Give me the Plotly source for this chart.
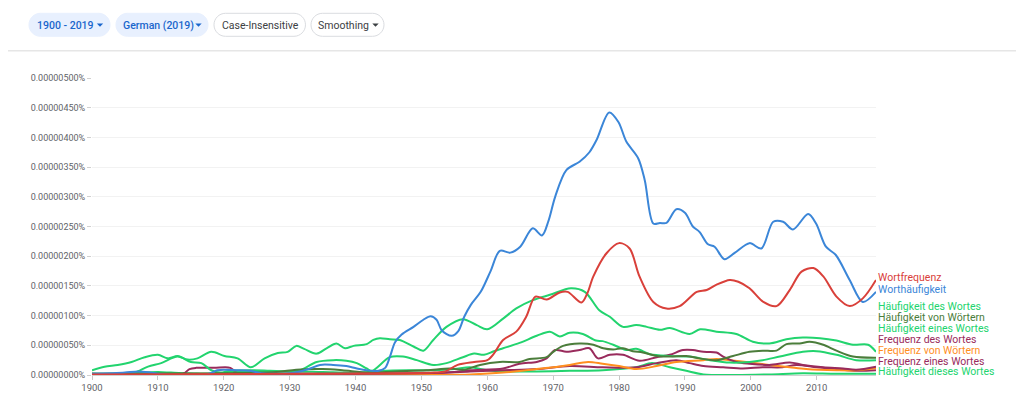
import plotly.graph_objects as go

# ---------------- data (values in units of 0.000001 %) ----------------
SCALE = 1e-6

WORTFREQUENZ_YEARS = [1900, 1930, 1945, 1952, 1953.6, 1955.5, 1958, 1960, 1961, 1962.4, 1964.4, 1965.9, 1967.3, 1969, 1971,
                      1972.2, 1974.3, 1975.2, 1976.1, 1978.1, 1980, 1981.6, 1983.1, 1985.2, 1987.2, 1989.2, 1991.8, 1993.3,
                      1994.8, 1996.8, 1998.1, 1999.8, 2001.9, 2003.9, 2005.9, 2007.7, 2009.5, 2011, 2013, 2015, 2017, 2019]
WORTFREQUENZ = [0.01, 0.02, 0.03, 0.04, 0.06, 0.17, 0.22, 0.25, 0.36, 0.59, 0.73, 0.98, 1.32, 1.27, 1.39,
                1.40, 1.22, 1.38, 1.66, 2.05, 2.22, 2.13, 1.66, 1.23, 1.12, 1.16, 1.40, 1.43,
                1.52, 1.60, 1.57, 1.46, 1.23, 1.16, 1.43, 1.74, 1.80, 1.66, 1.32, 1.16, 1.29, 1.60]

WORTHAEUFIGKEIT_YEARS = [1900, 1903, 1905, 1907, 1909, 1911, 1914, 1917, 1918, 1919, 1922, 1924, 1925.7, 1928, 1930,
                         1931.6, 1933.1, 1934.6, 1936.6, 1938.6, 1940.2, 1941.7, 1943.5, 1944.5, 1945.2, 1946, 1947,
                         1948.8, 1950.3, 1951.4, 1952.3, 1953.1, 1954.6, 1955.6, 1956.5, 1957.5, 1959, 1960.5, 1961.9,
                         1963.5, 1965, 1966.9, 1968.3, 1969.3, 1970.3, 1972, 1974, 1975.5, 1976.6, 1978.5, 1979.9,
                         1981.1, 1982.9, 1983.9, 1985.2, 1986.2, 1987.2, 1988.7, 1990, 1991.2, 1992.2, 1993.5, 1994.5,
                         1996, 1997.6, 1999.8, 2001.6, 2003.4, 2004.9, 2006.4, 2008.7, 2009.9, 2011.4, 2012.9, 2015,
                         2017, 2019]
WORTHAEUFIGKEIT = [0.02, 0.03, 0.04, 0.06, 0.04, 0.01, 0.0, 0.0, 0.03, 0.08, 0.08, 0.07, 0.03, 0.02, 0.03,
                   0.06, 0.11, 0.17, 0.17, 0.15, 0.11, 0.08, 0.07, 0.12, 0.30, 0.55, 0.68,
                   0.81, 0.93, 0.99, 0.93, 0.75, 0.66, 0.74, 0.98, 1.18, 1.40, 1.75, 2.09,
                   2.06, 2.16, 2.47, 2.35, 2.60, 3.00, 3.45, 3.59, 3.75, 3.96, 4.42, 4.26,
                   3.93, 3.65, 3.28, 2.55, 2.56, 2.56, 2.79, 2.73, 2.50, 2.41, 2.20, 2.16,
                   1.95, 2.06, 2.22, 2.13, 2.58, 2.58, 2.45, 2.71, 2.55, 2.16, 2.02, 1.60,
                   1.23, 1.40]

H_DES_WORTES_YEARS = [1900, 1901.9, 1903.9, 1906, 1908, 1910, 1911.5, 1913, 1914.5, 1916, 1918.1, 1920.1, 1922.1, 1924.1,
                      1926.2, 1928.2, 1929.7, 1931, 1932.2, 1934.1, 1935.6, 1937.1, 1938.4, 1939.7, 1941.7, 1942.7,
                      1943.7, 1945.2, 1946.7, 1948.8, 1950.3, 1951.8, 1953.8, 1956.3, 1958.4, 1960, 1962.4, 1964.4,
                      1966.9, 1969.5, 1972.7, 1974.8, 1977, 1978.6, 1980.6, 1982.6, 1984.2, 1986.2, 1987.7, 1990.7,
                      1992.3, 1994.8, 1997.8, 2000.3, 2002.8, 2005.4, 2007.9, 2010.5, 2013, 2015.5, 2017.8, 2019]
H_DES_WORTES = [0.08, 0.14, 0.17, 0.22, 0.30, 0.34, 0.28, 0.32, 0.26, 0.28, 0.39, 0.32, 0.28, 0.13,
                0.28, 0.37, 0.39, 0.49, 0.44, 0.36, 0.45, 0.53, 0.45, 0.49, 0.52, 0.59,
                0.62, 0.60, 0.59, 0.48, 0.41, 0.59, 0.81, 0.94, 0.84, 0.77, 0.95, 1.12,
                1.26, 1.35, 1.46, 1.40, 1.09, 0.98, 0.81, 0.84, 0.81, 0.76, 0.79, 0.69,
                0.77, 0.73, 0.69, 0.56, 0.53, 0.60, 0.63, 0.62, 0.58, 0.51, 0.51, 0.39]

H_VON_WOERTERN_YEARS = [1900, 1920, 1928, 1931, 1935, 1938, 1942, 1946, 1950.8, 1954.3, 1956.5, 1958.9, 1961.9, 1964.9,
                        1966.4, 1969, 1970, 1971.5, 1974, 1976.1, 1977.6, 1979.1, 1980.6, 1982.1, 1983.6, 1985.7,
                        1987.7, 1990.2, 1992.2, 1994.8, 1997.3, 1999.8, 2001.8, 2003.9, 2005.4, 2007.4, 2008.9, 2011,
                        2013, 2015.5, 2019]
H_VON_WOERTERN = [0.02, 0.03, 0.05, 0.09, 0.10, 0.08, 0.04, 0.06, 0.08, 0.11, 0.09, 0.17, 0.22, 0.22,
                  0.27, 0.30, 0.39, 0.49, 0.53, 0.51, 0.45, 0.43, 0.45, 0.40, 0.38, 0.32,
                  0.31, 0.32, 0.28, 0.25, 0.32, 0.39, 0.41, 0.41, 0.52, 0.53, 0.56, 0.51,
                  0.41, 0.31, 0.29]

H_EINES_WORTES_YEARS = [1900, 1905, 1906.5, 1908.5, 1910.5, 1913, 1915, 1916.6, 1918.1, 1919.5, 1921, 1924, 1927, 1930,
                        1931.6, 1934.1, 1936.6, 1938.6, 1940.2, 1941.7, 1942.5, 1945.2, 1947.2, 1949.3, 1951.8, 1953.8,
                        1956.3, 1958, 1959.5, 1961, 1962.4, 1964.9, 1967.5, 1969.5, 1971, 1972.5, 1974.5, 1976.5,
                        1977.5, 1979.1, 1981.1, 1982.6, 1984.7, 1987.7, 1990.7, 1993.8, 1996.8, 1999.8, 2001.8, 2004.4,
                        2007.9, 2010, 2013, 2016, 2019]
H_EINES_WORTES = [0.02, 0.02, 0.04, 0.14, 0.20, 0.31, 0.22, 0.20, 0.08, 0.04, 0.07, 0.08, 0.07, 0.06,
                  0.08, 0.22, 0.25, 0.24, 0.20, 0.11, 0.07, 0.30, 0.31, 0.25, 0.17, 0.20,
                  0.30, 0.36, 0.34, 0.40, 0.45, 0.54, 0.66, 0.73, 0.65, 0.71, 0.69, 0.58,
                  0.57, 0.51, 0.42, 0.44, 0.35, 0.32, 0.31, 0.25, 0.21, 0.22, 0.25, 0.31,
                  0.39, 0.40, 0.34, 0.25, 0.25]

F_DES_WORTES_YEARS = [1900, 1913.8, 1914.8, 1915.8, 1918.5, 1921, 1922.1, 1930, 1950, 1955, 1957.4, 1962.4, 1964.9,
                      1967.5, 1969, 1970.3, 1972, 1974, 1975.5, 1976.8, 1978.6, 1980.6, 1983.1, 1985.7, 1987.7, 1989.7,
                      1991.2, 1992.8, 1994.8, 1995.8, 1997.8, 1999.8, 2002.8, 2005.9, 2007.9, 2011, 2014, 2016, 2019]
F_DES_WORTES = [0.02, 0.02, 0.10, 0.12, 0.12, 0.12, 0.03, 0.02, 0.03, 0.05, 0.08, 0.11, 0.19,
                0.22, 0.28, 0.42, 0.39, 0.42, 0.45, 0.28, 0.34, 0.34, 0.24, 0.30, 0.34, 0.42,
                0.42, 0.39, 0.38, 0.31, 0.22, 0.19, 0.17, 0.21, 0.17, 0.13, 0.11, 0.09, 0.14]

F_VON_WOERTERN_YEARS = [1900, 1950, 1955, 1957.4, 1962.4, 1967.5, 1970, 1972.5, 1975.3, 1977.5, 1980, 1982.6, 1985.7,
                        1988.7, 1992.8, 1994.8, 1996.8, 1999.3, 2002.8, 2005.9, 2008.4, 2013, 2016, 2019]
F_VON_WOERTERN = [0.0, 0.0, 0.005, 0.01, 0.04, 0.10, 0.13, 0.17, 0.22, 0.19, 0.15, 0.10, 0.15,
                  0.22, 0.25, 0.27, 0.25, 0.22, 0.17, 0.13, 0.10, 0.08, 0.08, 0.12]

F_EINES_WORTES_YEARS = [1900, 1950, 1957.4, 1962.4, 1967.5, 1972.5, 1977.5, 1982.6, 1985.7, 1988.7, 1990.7, 1992.8,
                        1995.8, 1998.8, 2001.8, 2004.8, 2006.9, 2010, 2013, 2016, 2019]
F_EINES_WORTES = [0.01, 0.02, 0.06, 0.08, 0.10, 0.15, 0.13, 0.13, 0.20, 0.25, 0.20, 0.15,
                  0.13, 0.11, 0.13, 0.13, 0.17, 0.13, 0.10, 0.07, 0.08]

H_DIESES_WORTES_YEARS = [1900, 1905, 1910, 1912, 1916, 1919, 1921, 1925, 1930, 1935, 1940, 1944, 1948, 1952, 1955,
                         1957.4, 1960, 1962.4, 1967.5, 1972.5, 1977.5, 1982.6, 1985, 1987.7, 1990.2, 1992.8, 1997.8,
                         2002.8, 2007.9, 2013, 2019]
H_DIESES_WORTES = [0.02, 0.03, 0.05, 0.04, 0.02, 0.02, 0.06, 0.05, 0.06, 0.05, 0.04, 0.07, 0.08, 0.08, 0.10,
                   0.13, 0.08, 0.06, 0.06, 0.07, 0.08, 0.13, 0.20, 0.13, 0.07, 0.01, 0.0,
                   0.01, 0.03, 0.02, 0.02]

SERIES_NAMES = ["Wortfrequenz", "Worthäufigkeit", "Häufigkeit des Wortes", "Häufigkeit von Wörtern",
                "Häufigkeit eines Wortes", "Frequenz des Wortes", "Frequenz von Wörtern",
                "Frequenz eines Wortes", "Häufigkeit dieses Wortes"]

X_TICKS = [1900, 1910, 1920, 1930, 1940, 1950, 1960, 1970, 1980, 1990, 2000, 2010]
Y_TICKS = [0.0, 0.5, 1.0, 1.5, 2.0, 2.5, 3.0, 3.5, 4.0, 4.5, 5.0]
YEAR_RANGE = [1900, 2019]

CHIP_LABELS = ["1900 - 2019", "German (2019)", "Case-Insensitive", "Smoothing"]

# ---------------- styling ----------------
RED = "#d9403a"
BLUE = "#3b86d8"
GREEN = "#22d46e"
DARK_GREEN = "#4b7d3b"
MAROON = "#992b5c"
ORANGE = "#ff8f1f"
COLORS = [RED, BLUE, GREEN, DARK_GREEN, GREEN, MAROON, ORANGE, MAROON, GREEN]
FONT = "Roboto, 'Noto Sans', Arial, sans-serif"

SERIES = [
    (WORTFREQUENZ_YEARS, WORTFREQUENZ),
    (WORTHAEUFIGKEIT_YEARS, WORTHAEUFIGKEIT),
    (H_DES_WORTES_YEARS, H_DES_WORTES),
    (H_VON_WOERTERN_YEARS, H_VON_WOERTERN),
    (H_EINES_WORTES_YEARS, H_EINES_WORTES),
    (F_DES_WORTES_YEARS, F_DES_WORTES),
    (F_VON_WOERTERN_YEARS, F_VON_WOERTERN),
    (F_EINES_WORTES_YEARS, F_EINES_WORTES),
    (H_DIESES_WORTES_YEARS, H_DIESES_WORTES),
]

# page is 1024x395; the html body has an 8px default margin
OFF = 8
W, H = 1024 - OFF, 395 - OFF
L, R, T, B = 92 - OFF, 148, 78 - OFF, 20
PW, PH = W - L - R, H - T - B


def px2x(px):
    return (px - OFF - L) / PW


def py2y(py):
    return (H - B - (py - OFF)) / PH


fig = go.Figure()

for i in reversed(range(len(SERIES))):
    yrs, vals = SERIES[i]
    fig.add_trace(go.Scatter(
        x=yrs, y=[v * SCALE for v in vals], mode="lines", name=SERIES_NAMES[i],
        line=dict(color=COLORS[i], width=2, shape="spline", smoothing=0.9),
        hoverinfo="skip", cliponaxis=True,
    ))

# end-of-line labels, stacked upward to avoid overlap
LABEL_GAP = 0.182
order = sorted(range(len(SERIES)), key=lambda k: SERIES[k][1][-1])
prev = None
label_y = {}
for k in order:
    v = SERIES[k][1][-1]
    y = v if prev is None else max(v, prev + LABEL_GAP)
    label_y[k] = y
    prev = y

annotations = []
for k in range(len(SERIES)):
    annotations.append(dict(
        x=SERIES[k][0][-1], y=label_y[k] * SCALE, xref="x", yref="y", text=SERIES_NAMES[k],
        showarrow=False, xanchor="left", yanchor="middle", xshift=1, yshift=2,
        borderpad=0,
        font=dict(family=FONT, size=10.5, color=COLORS[k]),
    ))


def rrect_path(x0, y0, x1, y1, r):
    k = 0.5523 * r
    segs = [("M", [(x0 + r, y0)]), ("L", [(x1 - r, y0)]),
            ("C", [(x1 - r + k, y0), (x1, y0 + r - k), (x1, y0 + r)]), ("L", [(x1, y1 - r)]),
            ("C", [(x1, y1 - r + k), (x1 - r + k, y1), (x1 - r, y1)]), ("L", [(x0 + r, y1)]),
            ("C", [(x0 + r - k, y1), (x0, y1 - r + k), (x0, y1 - r)]), ("L", [(x0, y0 + r)]),
            ("C", [(x0, y0 + r - k), (x0 + r - k, y0), (x0 + r, y0)])]
    out = []
    for cmd, pts in segs:
        out.append(cmd + " " + " ".join(f"{px2x(a):.5f},{py2y(b):.5f}" for a, b in pts))
    return " ".join(out) + " Z"


def tri_path(cx, cy):
    pts = [(cx - 3.2, cy - 1.6), (cx + 3.2, cy - 1.6), (cx, cy + 1.8)]
    return "M " + " L ".join(f"{px2x(a):.5f},{py2y(b):.5f}" for a, b in pts) + " Z"


shapes = []
# search box bottom edge
path = f"M {px2x(30):.5f},{py2y(-8):.5f} L {px2x(30):.5f},{py2y(-4):.5f} " \
       f"Q {px2x(30):.5f},{py2y(1.5):.5f} {px2x(36):.5f},{py2y(1.5):.5f} " \
       f"L {px2x(541):.5f},{py2y(1.5):.5f} Q {px2x(547):.5f},{py2y(1.5):.5f} {px2x(547):.5f},{py2y(-4):.5f} " \
       f"L {px2x(547):.5f},{py2y(-8):.5f}"
shapes.append(dict(type="path", xref="paper", yref="paper", path=path,
                   line=dict(color="#dadce0", width=1)))
# divider
shapes.append(dict(type="line", xref="paper", yref="paper", x0=px2x(0), x1=px2x(1030),
                   y0=py2y(50.7), y1=py2y(50.7), line=dict(color="#e6e6e6", width=1.5)))

chips = [  # x0, x1, filled, text center, arrow x
    (29, 110, True, 65.5, 100),
    (116, 208, True, 158, 198.5),
    (214, 305.5, False, 260, None),
    (311, 384, False, 343.5, 375.5),
]
CY0, CY1 = 13.3, 36.3
for (x0, x1, filled, tc, ax), label in zip(chips, CHIP_LABELS):
    shapes.append(dict(type="path", xref="paper", yref="paper",
                       path=rrect_path(x0, CY0, x1, CY1, (CY1 - CY0) / 2),
                       fillcolor="#e8f0fe" if filled else "white",
                       line=dict(color="#e8f0fe" if filled else "#dadce0", width=1)))
    tcol = "#1a66cc" if filled else "#3c4043"
    annotations.append(dict(x=px2x(tc), y=py2y(25), xref="paper", yref="paper", text=label,
                            showarrow=False, xanchor="center", yanchor="middle",
                            font=dict(family=FONT, size=10.5, color=tcol, weight=500 if filled else 400)))
    if ax is not None:
        shapes.append(dict(type="path", xref="paper", yref="paper", path=tri_path(ax, 25),
                           fillcolor=tcol, line=dict(width=0)))

fig.update_layout(
    width=W, height=H, autosize=False,
    margin=dict(l=L, r=R, t=T, b=B, pad=0, autoexpand=False),
    paper_bgcolor="white", plot_bgcolor="white",
    showlegend=False,
    font=dict(family=FONT),
    shapes=shapes,
    annotations=annotations,
    xaxis=dict(
        range=YEAR_RANGE, tickmode="array", tickvals=X_TICKS,
        ticks="outside", ticklen=4, tickcolor="#c8c8c8", tickwidth=1,
        tickfont=dict(family=FONT, size=9.5, color="#5f6368"),
        showgrid=False, zeroline=False, showline=True, linecolor="#d0d0d0", linewidth=1,
        layer="below traces", fixedrange=True, automargin=False,
    ),
    yaxis=dict(
        range=[0, Y_TICKS[-1] * SCALE], tickmode="array", tickvals=[v * SCALE for v in Y_TICKS],
        ticktext=[f"{v * SCALE:.8f}%" for v in Y_TICKS],
        ticks="outside", ticklen=4, tickcolor="#d0d0d0", tickwidth=1,
        tickfont=dict(family=FONT, size=9, color="#5f6368"),
        showgrid=True, gridcolor="#f2f2f2", gridwidth=1, zeroline=False, showline=False,
        layer="below traces", fixedrange=True, automargin=False,
    ),
)

fig.write_html("out.html")
